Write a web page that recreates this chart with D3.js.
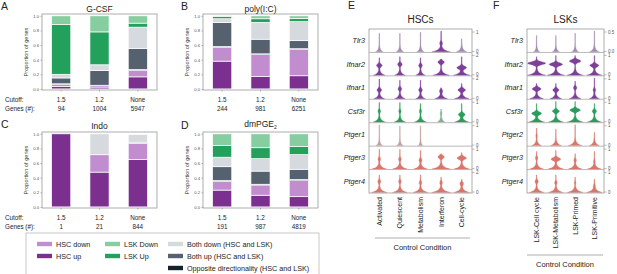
<!DOCTYPE html>
<html>
<head>
<meta charset="utf-8">
<script src="https://cdn.jsdelivr.net/npm/d3@7"></script>
<style>
  body { margin: 0; background: #fff; }
  text { font-family: "Liberation Sans", Arial, sans-serif; }
</style>
</head>
<body>
<div id="fig"></div>
<script>
// ---- bar panels (A-D) ----
const cutoffs = ["1.5", "1.2", "None"];
const seriesKeys = ["hscUp", "hscDown", "opposite", "bothUp", "bothDown", "lskUp", "lskDown"];
const seriesColors = ["#7b2f8f", "#c18dcf", "#17202b", "#56616f", "#d6d9de", "#23a05b", "#86cea0"];

const gcsfGenes = [94, 1004, 5947];
const gcsfProps = [
  [0.035, 0.03, 0.005, 0.08, 0.05, 0.68, 0.12],
  [0.025, 0.02, 0.005, 0.20, 0.08, 0.45, 0.22],
  [0.165, 0.09, 0.01, 0.29, 0.29, 0.055, 0.10]
];
const polyGenes = [244, 981, 6251];
const polyProps = [
  [0.38, 0.19, 0.01, 0.33, 0.05, 0.03, 0.01],
  [0.17, 0.30, 0.01, 0.20, 0.23, 0.05, 0.04],
  [0.18, 0.36, 0.01, 0.11, 0.26, 0.045, 0.035]
];
const indoGenes = [1, 21, 844];
const indoProps = [
  [1.0, 0, 0, 0, 0, 0, 0],
  [0.476, 0.238, 0, 0, 0.286, 0, 0],
  [0.65, 0.22, 0, 0.015, 0.105, 0, 0]
];
const pgeGenes = [191, 987, 4819];
const pgeProps = [
  [0.23, 0.12, 0.01, 0.19, 0.13, 0.16, 0.16],
  [0.16, 0.14, 0.01, 0.18, 0.17, 0.15, 0.19],
  [0.14, 0.22, 0.015, 0.14, 0.20, 0.11, 0.175]
];

const legendCols = [
  ["HSC down", "HSC up"],
  ["LSK Down", "LSK Up"],
  ["Both down (HSC and LSK)", "Both up (HSC and LSK)", "Opposite directionality (HSC and LSK)"]
];
const legendColors = [
  ["#c18dcf", "#7b2f8f"],
  ["#86cea0", "#23a05b"],
  ["#d6d9de", "#56616f", "#17202b"]
];

// ---- violin panels (E, F) ----
const eConditions = ["Activated", "Quiescent", "Metabolism", "Interferon", "Cell-cycle"];
const fConditions = ["LSK-Cell cycle", "LSK-Metabolism", "LSK-Primed", "LSK-Primitive"];
const eGenes = ["Tlr3", "Ifnar2", "Ifnar1", "Csf3r", "Ptger1", "Ptger3", "Ptger4"];
const fGenes = ["Tlr3", "Ifnar2", "Ifnar1", "Csf3r", "Ptger2", "Ptger3", "Ptger4"];
const geneColors = ["#7e3f98", "#7e3f98", "#7e3f98", "#2a9d5c", "#d9766b", "#d9766b", "#d9766b"];
// each violin: [base width, bulge position, bulge width, top, muted]
const eViolins = [
  [[0.35, 0.5, 0, 0.85, 1], [0.35, 0.5, 0, 0.85, 1], [0.35, 0.5, 0, 0.9, 1], [0.9, 0.4, 0.1, 0.95, 0], [0.5, 0.4, 0, 0.6, 1]],
  [[0.55, 0.45, 0.25, 0.8, 0], [0.5, 0.5, 0.2, 0.85, 0], [0.45, 0.45, 0.15, 0.8, 0], [0.8, 0.6, 0.3, 0.75, 0], [0.8, 0.35, 0.45, 0.85, 0]],
  [[0.5, 0.4, 0.2, 0.9, 0], [0.5, 0.45, 0.15, 0.85, 0], [0.45, 0.4, 0.15, 0.85, 0], [0.6, 0.35, 0.12, 0.5, 0], [0.7, 0.4, 0.35, 0.7, 0]],
  [[0.6, 0.5, 0.1, 0.9, 0], [0.55, 0.5, 0.08, 0.9, 0], [0.6, 0.5, 0.08, 0.85, 0], [0.35, 0.4, 0.05, 0.6, 1], [0.7, 0.35, 0.3, 0.85, 0]],
  [[0.3, 0.5, 0, 0.95, 1], [0.3, 0.5, 0, 0.9, 1], [0.2, 0.5, 0, 0.9, 1], [0, 0, 0, 0, 1], [0, 0, 0, 0, 1]],
  [[0.7, 0.45, 0.1, 0.9, 0], [0.7, 0.45, 0.1, 0.9, 0], [0.65, 0.4, 0.12, 0.85, 0], [0.9, 0.55, 0.3, 0.7, 0], [0.75, 0.5, 0.45, 0.75, 0]],
  [[0.75, 0.5, 0.12, 0.8, 0], [0.7, 0.5, 0.1, 0.8, 0], [0.7, 0.45, 0.1, 0.8, 0], [0.9, 0.45, 0.1, 0.7, 0], [0.75, 0.4, 0.15, 0.6, 0]]
];
const fViolins = [
  [[0.3, 0.5, 0, 0.75, 1], [0.35, 0.5, 0, 0.75, 1], [0.35, 0.5, 0, 0.85, 1], [0.5, 0.5, 0, 0.95, 1]],
  [[0.95, 0.55, 0.95, 0.85, 0], [0.9, 0.5, 0.7, 0.9, 0], [0.85, 0.65, 0.6, 0.9, 0], [0.8, 0.45, 0.45, 0.9, 0]],
  [[0.7, 0.45, 0.45, 0.7, 0], [0.6, 0.4, 0.3, 0.7, 0], [0.6, 0.5, 0.15, 0.8, 0], [0.5, 0.4, 0.1, 0.95, 0]],
  [[0.85, 0.4, 0.5, 0.85, 0], [0.8, 0.5, 0.35, 0.95, 0], [0.85, 0.55, 0.55, 0.95, 0], [0.75, 0.5, 0.2, 0.85, 0]],
  [[0.5, 0.45, 0.05, 0.8, 0], [0.55, 0.5, 0, 0.75, 0], [0.7, 0.5, 0, 0.95, 0], [0.5, 0.5, 0, 0.6, 0]],
  [[0.7, 0.5, 0.1, 0.8, 0], [0.8, 0.45, 0.5, 0.85, 0], [0.7, 0.4, 0.1, 0.7, 0], [0.7, 0.35, 0.05, 0.8, 0]],
  [[0.75, 0.5, 0.15, 0.8, 0], [0.75, 0.45, 0.1, 0.8, 0], [0.8, 0.45, 0.05, 0.7, 0], [0.8, 0.3, 0.05, 0.6, 0]]
];
const eTicks = [["0", "1"], ["0", "2"], ["0", "2"], ["0", "1"], ["0", "1"], ["0", "1"], ["0", "2"]];
const fTicks = [["0.0", "0.5"], ["0", "1"], ["0", "1"], ["0", "1"], ["0", "1"], ["0", "1"], ["0", "1"]];

const width = 617, height = 274;
const svg = d3.select("#fig").append("svg")
  .attr("width", width)
  .attr("height", height);

function barPanel(cfg) {
  const x = d3.scaleBand().domain(cutoffs)
    .range([cfg.left, cfg.left + 115]).paddingInner(0.5).paddingOuter(0.25);
  const y = d3.scaleLinear().domain([-0.015, 1.025]).range([cfg.bottom, cfg.top]);

  const rows = cfg.props.map((p, i) => {
    let r = { cutoff: cutoffs[i] };
    seriesKeys.forEach((k, j) => r[k] = p[j]);
    return r;
  });
  const stacked = d3.stack().keys(seriesKeys)(rows);

  const g = svg.append("g");
  g.selectAll("g.layer")
    .data(stacked)
    .join("g")
    .attr("fill", (d, i) => seriesColors[i])
    .selectAll("rect")
    .data(d => d)
    .join("rect")
    .attr("x", d => x(d.data.cutoff))
    .attr("width", x.bandwidth())
    .attr("y", d => y(d[1]))
    .attr("height", d => Math.max(0, y(d[0]) - y(d[1])))
    .attr("stroke", "#fff")
    .attr("stroke-width", 0.7);

  g.append("rect")
    .attr("x", cfg.left).attr("y", cfg.top)
    .attr("width", 115).attr("height", cfg.bottom - cfg.top)
    .attr("fill", "none").attr("stroke", "#9a9a9a").attr("stroke-width", 0.8);

  const ya = g.append("g")
    .attr("transform", `translate(${cfg.left},0)`)
    .call(d3.axisLeft(y).tickValues([0, 0.2, 0.4, 0.6, 0.8, 1.0]).tickFormat(d3.format(".1f")).tickSize(1.5).tickPadding(1.5));
  ya.select(".domain").remove();
  ya.selectAll("text").attr("font-size", 4.2).attr("fill", "#555").style("font-family", "Liberation Sans, Arial");
  ya.selectAll("line").attr("stroke", "#777").attr("stroke-width", 0.5);

  const xa = g.append("g")
    .attr("transform", `translate(0,${cfg.bottom})`)
    .call(d3.axisBottom(x).tickSize(1.5).tickFormat(""));
  xa.select(".domain").remove();
  xa.selectAll("line").attr("stroke", "#777").attr("stroke-width", 0.5);

  g.append("text")
    .attr("transform", `translate(${cfg.left - 14},${(cfg.top + cfg.bottom) / 2}) rotate(-90)`)
    .attr("text-anchor", "middle")
    .attr("font-size", 5.6).attr("fill", "#333")
    .text("Proportion of genes");

  const title = g.append("text")
    .attr("x", cfg.left + 57.5).attr("y", cfg.titleY)
    .attr("text-anchor", "middle").attr("font-size", 8.5).attr("fill", "#222")
    .text(cfg.title);
  if (cfg.sub) title.append("tspan").attr("font-size", 5).attr("dy", 2).text(cfg.sub);

  g.append("text").attr("x", cfg.letterX).attr("y", cfg.letterY)
    .attr("font-size", 10.5).attr("fill", "#222").text(cfg.letter);

  g.selectAll("text.cut")
    .data(cutoffs)
    .join("text")
    .attr("class", "cut")
    .attr("x", d => x(d) + x.bandwidth() / 2)
    .attr("y", cfg.bottom + 12)
    .attr("text-anchor", "middle").attr("font-size", 6.3).attr("fill", "#222")
    .text(d => d);
  g.selectAll("text.genes")
    .data(cfg.genes)
    .join("text")
    .attr("class", "genes")
    .attr("x", (d, i) => x(cutoffs[i]) + x.bandwidth() / 2)
    .attr("y", cfg.bottom + 21)
    .attr("text-anchor", "middle").attr("font-size", 6.3).attr("fill", "#222")
    .text(d => d);

  if (cfg.rowLabels) {
    g.append("text").attr("x", 5).attr("y", cfg.bottom + 12)
      .attr("font-size", 6.3).attr("fill", "#222").text("Cutoff:");
    g.append("text").attr("x", 5).attr("y", cfg.bottom + 21)
      .attr("font-size", 6.3).attr("fill", "#222").text("Genes (#):");
  }
}

barPanel({ left: 42, top: 14, bottom: 90, props: gcsfProps, genes: gcsfGenes, title: "G-CSF", titleY: 11.5, letter: "A", letterX: 1, letterY: 10, rowLabels: true });
barPanel({ left: 203, top: 14, bottom: 90, props: polyProps, genes: polyGenes, title: "poly(I:C)", titleY: 11.5, letter: "B", letterX: 181, letterY: 10 });
barPanel({ left: 42, top: 132, bottom: 208, props: indoProps, genes: indoGenes, title: "Indo", titleY: 128.5, letter: "C", letterX: 1, letterY: 128, rowLabels: true });
barPanel({ left: 203, top: 132, bottom: 208, props: pgeProps, genes: pgeGenes, title: "dmPGE", sub: "2", titleY: 126.5, letter: "D", letterX: 181, letterY: 129 });

// legend
const leg = svg.append("g");
leg.append("rect").attr("x", 26).attr("y", 233).attr("width", 293).attr("height", 45)
  .attr("fill", "#fff").attr("stroke", "#bbb").attr("stroke-width", 0.8);
const legX = [37, 105, 168];
legendCols.forEach((col, ci) => {
  col.forEach((label, ri) => {
    const yy = 244 + ri * 12;
    leg.append("rect").attr("x", legX[ci]).attr("y", yy - 2.2)
      .attr("width", 15).attr("height", 4.4).attr("fill", legendColors[ci][ri]);
    leg.append("text").attr("x", legX[ci] + 19).attr("y", yy + 2.5)
      .attr("font-size", 7.2).attr("fill", "#222").text(label);
  });
});

// violin panels
function violinPanel(cfg) {
  const x = d3.scaleBand().domain(cfg.conditions).range([cfg.left, cfg.right]);
  const rowBand = d3.scaleBand().domain(cfg.genes).range([cfg.top, cfg.bottom]);
  const hw = x.bandwidth() * 0.48;
  const g = svg.append("g");
  const ts = d3.range(0, 1.0001, 0.02);

  cfg.genes.forEach((gene, gi) => {
    const r0 = rowBand(gene), r1 = r0 + rowBand.bandwidth();
    const ty = d3.scaleLinear().domain([0, 1]).range([r1 - 0.6, r0 + 1]);
    const fill = geneColors[gi];
    const muted = d3.interpolateRgb(fill, "#b5b5b5")(0.65);

    cfg.conditions.forEach((cond, ci) => {
      const [b, bp, bw, top, m] = cfg.violins[gi][ci];
      if (top <= 0) return;
      const pts = ts.filter(t => t <= top).map(t => ({
        t: t,
        w: Math.min(1, b * Math.exp(-t / 0.09) + bw * Math.exp(-Math.pow((t - bp) / 0.09, 2)) + 0.035)
      }));
      pts.push({ t: top, w: 0.02 });
      const cx = x(cond) + x.bandwidth() / 2;
      const area = d3.area()
        .y(d => ty(d.t))
        .x0(d => cx - d.w * hw)
        .x1(d => cx + d.w * hw)
        .curve(d3.curveBasis);
      g.append("path").attr("d", area(pts))
        .attr("fill", m ? muted : fill)
        .attr("stroke", m ? muted : fill).attr("stroke-width", 0.3);
    });

    // gene label
    g.append("text").attr("x", cfg.left - 4).attr("y", (r0 + r1) / 2 + 2.5)
      .attr("text-anchor", "end").attr("font-size", 7.2).attr("font-style", "italic")
      .attr("fill", "#222").text(gene);

    // right ticks
    const tickFrac = d3.scaleLinear().domain([0, 1]).range([r1 - 1, r0 + 3]);
    cfg.ticks[gi].forEach((lab, k) => {
      const yy = tickFrac(k);
      g.append("line").attr("x1", cfg.right).attr("x2", cfg.right + 2.5)
        .attr("y1", yy).attr("y2", yy).attr("stroke", "#777").attr("stroke-width", 0.5);
      g.append("text").attr("x", cfg.right + 4).attr("y", yy + 1.6)
        .attr("font-size", 4.5).attr("fill", "#555").text(lab);
    });

    if (gi > 0) {
      g.append("line").attr("x1", cfg.left).attr("x2", cfg.right)
        .attr("y1", r0).attr("y2", r0).attr("stroke", "#9a9a9a").attr("stroke-width", 0.7);
    }
  });

  g.append("rect").attr("x", cfg.left).attr("y", cfg.top)
    .attr("width", cfg.right - cfg.left).attr("height", cfg.bottom - cfg.top)
    .attr("fill", "none").attr("stroke", "#9a9a9a").attr("stroke-width", 0.8);

  g.selectAll("text.cond")
    .data(cfg.conditions)
    .join("text")
    .attr("class", "cond")
    .attr("transform", d => `translate(${x(d) + x.bandwidth() / 2 + 2.5},${cfg.bottom + 4}) rotate(-90)`)
    .attr("text-anchor", "end").attr("font-size", 7).attr("fill", "#222")
    .text(d => d);

  g.append("line").attr("x1", cfg.lineX0).attr("x2", cfg.lineX1)
    .attr("y1", cfg.lineY).attr("y2", cfg.lineY).attr("stroke", "#999").attr("stroke-width", 0.8);
  g.append("text").attr("x", (cfg.lineX0 + cfg.lineX1) / 2).attr("y", cfg.lineY + 12)
    .attr("text-anchor", "middle").attr("font-size", 7.5).attr("fill", "#222").text("Control Condition");

  g.append("text").attr("x", (cfg.left + cfg.right) / 2).attr("y", 23)
    .attr("text-anchor", "middle").attr("font-size", 10).attr("fill", "#222").text(cfg.title);
  g.append("text").attr("x", cfg.letterX).attr("y", 9)
    .attr("font-size", 10.5).attr("fill", "#222").text(cfg.letter);
}

violinPanel({ left: 369, right: 472, top: 29, bottom: 193, conditions: eConditions, genes: eGenes, violins: eViolins, ticks: eTicks,
  title: "HSCs", letter: "E", letterX: 348, lineX0: 375, lineX1: 470, lineY: 238 });
violinPanel({ left: 527, right: 604, top: 29, bottom: 193, conditions: fConditions, genes: fGenes, violins: fViolins, ticks: fTicks,
  title: "LSKs", letter: "F", letterX: 493, lineX0: 527, lineX1: 603, lineY: 255 });
</script>
</body>
</html>
